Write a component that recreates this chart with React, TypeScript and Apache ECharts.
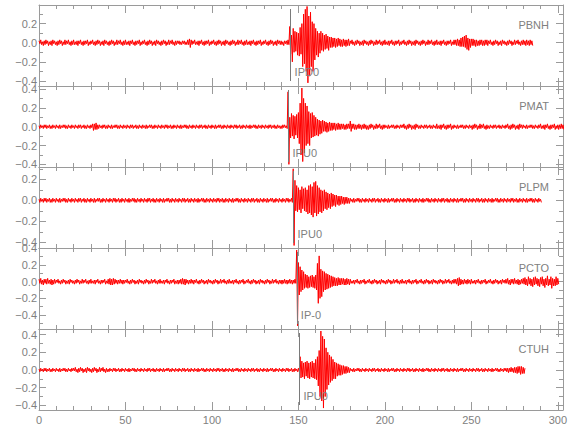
import React, { useEffect, useRef } from 'react';
import * as echarts from 'echarts';

// ---------------- data ----------------
const stations = ['PBNH', 'PMAT', 'PLPM', 'PCTO', 'CTUH'];
const pickTimes = [145.5, 144.3, 147.2, 149.1, 150.6];
const pickLabels = ['IPD0', 'IPU0', 'IPU0', 'IP-0', 'IPU0'];
const yMins = [-0.453, -0.428, -0.454, -0.569, -0.452];
const yMaxs = [0.395, 0.432, 0.317, 0.405, 0.463];
const xMax = 303;
const sampleStep = 0.5; // seconds between samples
const xMajorTicks = [0, 50, 100, 150, 200, 250, 300];
const xMinorTicks = [10, 20, 30, 40, 60, 70, 80, 90, 110, 120, 130, 140, 160, 170, 180, 190, 210, 220, 230, 240, 260, 270, 280, 290];
const yMajorTicks = [-0.4, -0.2, 0, 0.2, 0.4];
const yMinorTicks = [-0.5, -0.3, -0.1, 0.1, 0.3];

// one row = 10 s (20 samples)
const pbnh = [
  .02,-.01,.03,-.02,.01,-.03,.02,-.02,.03,-.01,.02,-.03,.01,-.02,.02,-.03,.03,-.01,.02,-.02,
  .01,-.03,.02,-.02,.03,-.01,.02,-.03,.01,-.02,.03,-.02,.02,-.01,.03,-.02,.01,-.03,.02,-.02,
  .03,-.02,.01,-.02,.02,-.03,.02,-.01,.03,-.02,.01,-.03,.02,-.02,.02,-.01,.03,-.03,.01,-.02,
  .02,-.01,.03,-.02,.01,-.03,.02,-.02,.03,-.01,.02,-.03,.01,-.02,.02,-.03,.03,-.01,.02,-.02,
  .01,-.03,.02,-.02,.03,-.01,.02,-.03,.01,-.02,.03,-.02,.02,-.01,.03,-.02,.01,-.03,.02,-.02,
  .03,-.02,.01,-.02,.02,-.03,.02,-.01,.03,-.02,.01,-.03,.02,-.02,.02,-.01,.03,-.03,.01,-.02,
  .02,-.01,.03,-.02,.01,-.03,.02,-.02,.03,-.01,.02,-.03,.01,-.02,.02,-.03,.03,-.01,.02,-.02,
  .01,-.03,.02,-.02,.03,-.01,.02,-.03,.01,-.02,.03,-.02,.02,-.01,.03,-.02,.01,-.03,.02,-.02,
  .02,-.01,.02,-.02,.01,-.02,.02,-.01,.02,-.02,.01,-.02,.03,-.02,.04,-.05,.03,-.02,.02,-.01,
  .03,-.02,.01,-.02,.02,-.03,.02,-.01,.03,-.02,.01,-.03,.02,-.02,.02,-.01,.03,-.03,.01,-.02,
  .02,-.01,.03,-.02,.01,-.03,.02,-.02,.03,-.01,.02,-.03,.01,-.02,.02,-.03,.03,-.01,.02,-.02,
  .01,-.03,.02,-.02,.03,-.01,.02,-.03,.01,-.02,.03,-.02,.02,-.01,.03,-.02,.01,-.03,.02,-.02,
  .03,-.02,.01,-.02,.02,-.03,.02,-.01,.03,-.02,.01,-.03,.02,-.02,.02,-.01,.03,-.03,.01,-.02,
  .02,-.01,.03,-.02,.01,-.03,.02,-.02,.03,-.01,.02,-.03,.01,-.02,.02,-.03,.03,-.01,.02,-.02,
  .02,-.02,.01,-.03,.02,-.01,.02,-.02,.03,-.02,.17,-.12,.08,-.2,.15,-.1,.12,-.09,.11,-.13,
  .1,-.14,.16,-.12,.2,-.25,.3,-.22,.35,-.3,.38,-.42,.28,-.35,.32,-.25,.22,-.3,.2,-.18,
  .15,-.13,.12,-.15,.1,-.11,.12,-.08,.1,-.09,.08,-.07,.09,-.06,.07,-.08,.06,-.05,.06,-.05,
  .05,-.04,.05,-.05,.04,-.04,.05,-.03,.04,-.04,.03,-.04,.04,-.03,.03,-.04,.03,-.03,.04,-.03,
  .02,-.01,.03,-.02,.01,-.03,.02,-.02,.03,-.01,.02,-.03,.01,-.02,.02,-.03,.03,-.01,.02,-.02,
  .01,-.03,.02,-.02,.03,-.01,.02,-.03,.01,-.02,.03,-.02,.02,-.01,.03,-.02,.01,-.03,.02,-.02,
  .03,-.02,.01,-.02,.02,-.03,.02,-.01,.03,-.02,.01,-.03,.02,-.02,.02,-.01,.03,-.03,.01,-.02,
  .02,-.01,.03,-.02,.01,-.03,.02,-.02,.03,-.01,.02,-.03,.01,-.02,.02,-.03,.03,-.01,.02,-.02,
  .01,-.03,.02,-.02,.03,-.01,.02,-.03,.01,-.02,.03,-.02,.02,-.01,.03,-.02,.01,-.03,.02,-.02,
  .03,-.02,.01,-.02,.02,-.03,.02,-.01,.03,-.02,.01,-.03,.02,-.02,.02,-.01,.03,-.03,.01,-.02,
  .03,-.02,.03,-.03,.04,-.03,.03,-.04,.05,-.04,.06,-.04,.07,-.05,.08,-.07,.05,-.08,.04,-.05,
  .04,-.03,.04,-.03,.03,-.04,.03,-.03,.02,-.03,.03,-.02,.03,-.03,.02,-.03,.03,-.02,.03,-.03,
  .02,-.01,.03,-.02,.01,-.03,.02,-.02,.03,-.01,.02,-.03,.01,-.02,.02,-.03,.03,-.01,.02,-.02,
  .01,-.03,.02,-.02,.03,-.01,.02,-.03,.01,-.02,.03,-.02,.02,-.01,.03,-.02,.01,-.03,.02,-.02,
  .03,-.02,.02,-.03,.03,-.02,.02,-.03,.03,-.02,.02,-.03,
];

const pmat = [
  .01,-.02,.02,-.01,.01,-.02,.02,-.01,.02,-.02,.01,-.01,.02,-.02,.01,-.02,.02,-.01,.01,-.02,
  .02,-.01,.01,-.02,.02,-.02,.01,-.01,.02,-.01,.02,-.02,.01,-.02,.02,-.01,.01,-.02,.02,-.01,
  .01,-.02,.02,-.01,.01,-.02,.02,-.01,.02,-.02,.01,-.01,.02,-.02,.01,-.02,.02,-.01,.01,-.02,
  .02,-.01,.03,-.04,.03,-.03,.04,-.03,.02,-.02,.02,-.01,.01,-.02,.02,-.01,.02,-.02,.01,-.02,
  .02,-.01,.01,-.02,.02,-.02,.01,-.01,.02,-.01,.02,-.02,.01,-.02,.02,-.01,.01,-.02,.02,-.01,
  .01,-.02,.02,-.01,.01,-.02,.02,-.01,.02,-.02,.01,-.01,.02,-.02,.01,-.02,.02,-.01,.01,-.02,
  .02,-.01,.01,-.02,.02,-.02,.01,-.01,.02,-.01,.02,-.02,.01,-.02,.02,-.01,.01,-.02,.02,-.01,
  .01,-.02,.02,-.01,.01,-.02,.02,-.01,.02,-.02,.01,-.01,.02,-.02,.01,-.02,.02,-.01,.01,-.02,
  .02,-.01,.01,-.02,.02,-.02,.01,-.01,.02,-.01,.02,-.02,.01,-.02,.02,-.01,.01,-.02,.02,-.01,
  .01,-.02,.02,-.01,.01,-.02,.02,-.01,.02,-.02,.01,-.01,.02,-.02,.01,-.02,.02,-.01,.01,-.02,
  .02,-.01,.01,-.02,.02,-.02,.01,-.01,.02,-.01,.02,-.02,.01,-.02,.02,-.01,.01,-.02,.02,-.01,
  .01,-.02,.02,-.01,.01,-.02,.02,-.01,.02,-.02,.01,-.01,.02,-.02,.01,-.02,.02,-.01,.01,-.02,
  .02,-.01,.01,-.02,.02,-.02,.01,-.01,.02,-.01,.02,-.02,.01,-.02,.02,-.01,.01,-.02,.02,-.01,
  .01,-.02,.02,-.01,.01,-.02,.02,-.01,.02,-.02,.01,-.01,.02,-.02,.01,-.02,.02,-.01,.01,-.02,
  .01,-.02,.02,-.01,.02,-.01,.01,-.02,.37,-.4,.1,-.12,.14,-.1,.12,-.13,.11,-.09,.13,-.12,
  .15,-.18,.25,-.3,.41,-.37,.3,-.28,.25,-.2,.22,-.18,.16,-.2,.14,-.12,.15,-.11,.12,-.1,
  .1,-.09,.08,-.1,.07,-.08,.06,-.07,.07,-.05,.06,-.05,.05,-.06,.04,-.05,.05,-.04,.04,-.04,
  .04,-.03,.04,-.04,.03,-.03,.04,-.03,.03,-.03,.03,-.02,.03,-.03,.02,-.03,.03,-.02,.03,-.02,
  .06,-.05,.03,-.02,.03,-.03,.02,-.03,.02,-.02,.03,-.02,.02,-.03,.02,-.02,.03,-.02,.02,-.03,
  .01,-.03,.02,-.02,.03,-.01,.02,-.03,.01,-.02,.03,-.02,.02,-.01,.03,-.02,.01,-.03,.02,-.02,
  .02,-.01,.01,-.02,.02,-.02,.01,-.01,.02,-.01,.02,-.02,.01,-.02,.02,-.01,.01,-.02,.02,-.01,
  .02,-.01,.03,-.02,.01,-.03,.02,-.02,.03,-.01,.02,-.03,.01,-.02,.02,-.03,.03,-.01,.02,-.02,
  .01,-.02,.02,-.01,.01,-.02,.02,-.01,.02,-.02,.01,-.01,.02,-.02,.01,-.02,.02,-.01,.01,-.02,
  .03,-.02,.01,-.02,.02,-.03,.02,-.01,.03,-.02,.01,-.03,.02,-.02,.02,-.01,.03,-.03,.01,-.02,
  .02,-.01,.01,-.02,.02,-.02,.01,-.01,.02,-.01,.02,-.02,.01,-.02,.02,-.01,.01,-.02,.02,-.01,
  .01,-.03,.02,-.02,.03,-.01,.02,-.03,.01,-.02,.03,-.02,.02,-.01,.03,-.02,.01,-.03,.02,-.02,
  .01,-.02,.02,-.01,.01,-.02,.02,-.01,.02,-.02,.01,-.01,.02,-.02,.01,-.02,.02,-.01,.01,-.02,
  .02,-.01,.03,-.02,.01,-.03,.02,-.02,.03,-.01,.02,-.03,.01,-.02,.02,-.03,.03,-.01,.02,-.02,
  .02,-.01,.01,-.02,.02,-.02,.01,-.01,.02,-.01,.02,-.02,.01,-.02,.02,-.01,.01,-.02,.02,-.01,
  .03,-.02,.01,-.02,.02,-.03,.02,-.01,.03,-.02,.01,-.03,.02,-.02,.02,-.01,.03,-.03,.01,-.02,
  .02,-.03,.02,-.02,.03,-.02,.02,-.03,
];

const plpm = [
  .01,-.02,.02,-.01,.01,-.02,.02,-.01,.02,-.02,.01,-.01,.02,-.02,.01,-.02,.02,-.01,.01,-.02,
  .02,-.01,.01,-.02,.02,-.02,.01,-.01,.02,-.01,.02,-.02,.01,-.02,.02,-.01,.01,-.02,.02,-.01,
  .01,-.02,.02,-.01,.01,-.02,.02,-.01,.02,-.02,.01,-.01,.02,-.02,.01,-.02,.02,-.01,.01,-.02,
  .02,-.01,.01,-.02,.02,-.02,.01,-.01,.02,-.01,.02,-.02,.01,-.02,.02,-.01,.01,-.02,.02,-.01,
  .01,-.02,.02,-.01,.01,-.02,.02,-.01,.02,-.02,.01,-.01,.02,-.02,.01,-.02,.02,-.01,.01,-.02,
  .02,-.01,.01,-.02,.02,-.02,.01,-.01,.02,-.01,.02,-.02,.01,-.02,.02,-.01,.01,-.02,.02,-.01,
  .01,-.02,.02,-.01,.01,-.02,.02,-.01,.02,-.02,.01,-.01,.02,-.02,.01,-.02,.02,-.01,.01,-.02,
  .02,-.01,.01,-.02,.02,-.02,.01,-.01,.02,-.01,.02,-.02,.01,-.02,.02,-.01,.01,-.02,.02,-.01,
  .01,-.02,.02,-.01,.01,-.02,.02,-.01,.02,-.02,.01,-.01,.02,-.02,.01,-.02,.02,-.01,.01,-.02,
  .02,-.01,.01,-.02,.02,-.02,.01,-.01,.02,-.01,.02,-.02,.01,-.02,.02,-.01,.01,-.02,.02,-.01,
  .01,-.02,.02,-.01,.01,-.02,.02,-.01,.02,-.02,.01,-.01,.02,-.02,.01,-.02,.02,-.01,.01,-.02,
  .02,-.01,.01,-.02,.02,-.02,.01,-.01,.02,-.01,.02,-.02,.01,-.02,.02,-.01,.01,-.02,.02,-.01,
  .01,-.02,.02,-.01,.01,-.02,.02,-.01,.02,-.02,.01,-.01,.02,-.02,.01,-.02,.02,-.01,.01,-.02,
  .02,-.01,.01,-.02,.02,-.02,.01,-.01,.02,-.01,.02,-.02,.01,-.02,.02,-.01,.01,-.02,.02,-.01,
  .01,-.02,.02,-.01,.01,-.02,.02,-.01,.02,-.02,.01,-.01,.02,-.02,.3,-.43,.19,-.1,.14,-.11,
  .12,-.09,.1,-.12,.13,-.08,.11,-.1,.12,-.11,.1,-.13,.14,-.12,.15,-.14,.13,-.16,.17,-.12,
  .18,-.15,.14,-.13,.12,-.11,.1,-.12,.09,-.1,.1,-.08,.08,-.09,.07,-.07,.06,-.08,.07,-.06,
  .06,-.05,.05,-.06,.05,-.04,.04,-.05,.04,-.04,.04,-.03,.03,-.04,.03,-.03,.03,-.03,.02,-.03,
  .02,-.01,.01,-.02,.02,-.02,.01,-.01,.02,-.01,.02,-.02,.01,-.02,.02,-.01,.01,-.02,.02,-.01,
  .01,-.02,.02,-.01,.01,-.02,.02,-.01,.02,-.02,.01,-.01,.02,-.02,.01,-.02,.02,-.01,.01,-.02,
  .02,-.01,.01,-.02,.02,-.02,.01,-.01,.02,-.01,.02,-.02,.01,-.02,.02,-.01,.01,-.02,.02,-.01,
  .01,-.02,.02,-.01,.01,-.02,.02,-.01,.02,-.02,.01,-.01,.02,-.02,.01,-.02,.02,-.01,.01,-.02,
  .02,-.01,.01,-.02,.02,-.02,.01,-.01,.02,-.01,.02,-.02,.01,-.02,.02,-.01,.01,-.02,.02,-.01,
  .01,-.02,.02,-.01,.01,-.02,.02,-.01,.02,-.02,.01,-.01,.02,-.02,.01,-.02,.02,-.01,.01,-.02,
  .02,-.01,.01,-.02,.02,-.02,.01,-.01,.02,-.01,.02,-.02,.01,-.02,.02,-.01,.01,-.02,.02,-.01,
  .01,-.02,.02,-.01,.01,-.02,.02,-.01,.02,-.02,.01,-.01,.02,-.02,.01,-.02,.02,-.01,.01,-.02,
  .02,-.01,.01,-.02,.02,-.02,.01,-.01,.02,-.01,.02,-.02,.01,-.02,.02,-.01,.01,-.02,.02,-.01,
  .01,-.02,.02,-.01,.01,-.02,.02,-.01,.02,-.02,.01,-.01,.02,-.02,.01,-.02,.02,-.01,.01,-.02,
  .02,-.01,.01,-.02,.02,-.02,.01,-.01,.02,-.01,.02,-.02,.01,-.02,.02,-.01,.01,-.02,.02,-.01,
  .01,-.02,
];

const pcto = [
  .03,-.02,.04,-.03,.02,-.04,.03,-.02,.03,-.03,.04,-.02,.02,-.03,.03,-.04,.02,-.03,.03,-.02,
  .02,-.01,.03,-.02,.01,-.03,.02,-.02,.03,-.01,.02,-.03,.01,-.02,.02,-.03,.03,-.01,.02,-.02,
  .01,-.03,.02,-.02,.03,-.01,.02,-.03,.01,-.02,.03,-.02,.02,-.01,.03,-.02,.01,-.03,.02,-.02,
  .03,-.02,.01,-.02,.02,-.03,.02,-.01,.03,-.02,.01,-.03,.02,-.02,.02,-.01,.03,-.03,.01,-.02,
  .03,-.03,.04,-.04,.03,-.04,.04,-.03,.03,-.02,.02,-.03,.02,-.02,.03,-.02,.02,-.03,.02,-.02,
  .02,-.01,.03,-.02,.01,-.03,.02,-.02,.03,-.01,.02,-.03,.01,-.02,.02,-.03,.03,-.01,.02,-.02,
  .01,-.03,.02,-.02,.03,-.01,.02,-.03,.01,-.02,.03,-.02,.02,-.01,.03,-.02,.01,-.03,.02,-.02,
  .03,-.02,.01,-.02,.02,-.03,.02,-.01,.03,-.02,.01,-.03,.02,-.02,.02,-.01,.03,-.03,.01,-.02,
  .02,-.03,.02,-.02,.03,-.03,.04,-.03,.03,-.04,.03,-.02,.02,-.03,.02,-.02,.03,-.02,.02,-.03,
  .02,-.01,.03,-.02,.01,-.03,.02,-.02,.03,-.01,.02,-.03,.01,-.02,.02,-.03,.03,-.01,.02,-.02,
  .01,-.03,.02,-.02,.03,-.01,.02,-.03,.01,-.02,.03,-.02,.02,-.01,.03,-.02,.01,-.03,.02,-.02,
  .03,-.02,.01,-.02,.02,-.03,.02,-.01,.03,-.02,.01,-.03,.02,-.02,.02,-.01,.03,-.03,.01,-.02,
  .02,-.01,.03,-.02,.01,-.03,.02,-.02,.03,-.01,.02,-.03,.01,-.02,.02,-.03,.03,-.01,.02,-.02,
  .01,-.03,.02,-.02,.03,-.01,.02,-.03,.01,-.02,.03,-.02,.02,-.01,.03,-.02,.01,-.03,.02,-.02,
  .02,-.03,.02,-.02,.03,-.02,.02,-.03,.02,-.02,.03,-.02,.02,-.03,.02,-.02,.03,-.02,.38,-.53,
  .23,-.16,.18,-.12,.14,-.1,.12,-.08,.09,-.07,.08,-.08,.06,-.07,.07,-.06,.08,-.07,.06,-.08,
  .08,-.1,.22,-.26,.31,-.2,.15,-.18,.13,-.12,.12,-.1,.1,-.09,.09,-.08,.08,-.07,.07,-.06,
  .06,-.05,.05,-.05,.04,-.05,.05,-.04,.04,-.04,.04,-.03,.04,-.04,.03,-.04,.04,-.03,.03,-.04,
  .03,-.02,.01,-.02,.02,-.03,.02,-.01,.03,-.02,.01,-.03,.02,-.02,.02,-.01,.03,-.03,.01,-.02,
  .02,-.01,.03,-.02,.01,-.03,.02,-.02,.03,-.01,.02,-.03,.01,-.02,.02,-.03,.03,-.01,.02,-.02,
  .01,-.03,.02,-.02,.03,-.01,.02,-.03,.01,-.02,.03,-.02,.02,-.01,.03,-.02,.01,-.03,.02,-.02,
  .03,-.02,.01,-.02,.02,-.03,.02,-.01,.03,-.02,.01,-.03,.02,-.02,.02,-.01,.03,-.03,.01,-.02,
  .02,-.01,.03,-.02,.01,-.03,.02,-.02,.03,-.01,.02,-.03,.01,-.02,.02,-.03,.03,-.01,.02,-.02,
  .01,-.03,.02,-.02,.03,-.01,.02,-.03,.01,-.02,.03,-.02,.02,-.01,.03,-.02,.01,-.03,.02,-.02,
  .03,-.02,.03,-.03,.04,-.05,.05,-.04,.03,-.03,.02,-.03,.03,-.02,.02,-.03,.03,-.02,.02,-.03,
  .03,-.02,.01,-.02,.02,-.03,.02,-.01,.03,-.02,.01,-.03,.02,-.02,.02,-.01,.03,-.03,.01,-.02,
  .02,-.01,.03,-.02,.01,-.03,.02,-.02,.03,-.01,.02,-.03,.01,-.02,.02,-.03,.03,-.01,.02,-.02,
  .03,-.02,.04,-.03,.02,-.04,.03,-.02,.03,-.03,.04,-.02,.02,-.03,.03,-.04,.02,-.03,.03,-.02,
  .04,-.03,.05,-.04,.03,-.05,.06,-.03,.04,-.05,.03,-.06,.05,-.04,.06,-.03,.04,-.05,.03,-.06,
  .05,-.03,.06,-.05,.03,-.07,.04,-.04,.07,-.05,.03,-.04,.06,-.08,.04,-.05,.03,-.05,.06,-.04,
  .04,-.03,
];

const ctuh = [
  .01,-.02,.02,-.01,.01,-.02,.02,-.01,.02,-.02,.01,-.01,.02,-.02,.01,-.02,.02,-.01,.01,-.02,
  .02,-.01,.01,-.02,.02,-.02,.01,-.01,.02,-.01,.02,-.02,.01,-.02,.02,-.01,.01,-.02,.02,-.01,
  .02,-.01,.03,-.02,.01,-.03,.02,-.02,.03,-.01,.02,-.03,.01,-.02,.02,-.03,.03,-.01,.02,-.02,
  .01,-.03,.02,-.02,.03,-.01,.02,-.03,.01,-.02,.03,-.02,.02,-.01,.03,-.02,.01,-.03,.02,-.02,
  .01,-.02,.02,-.01,.01,-.02,.02,-.01,.02,-.02,.01,-.01,.02,-.02,.01,-.02,.02,-.01,.01,-.02,
  .02,-.01,.01,-.02,.02,-.02,.01,-.01,.02,-.01,.02,-.02,.01,-.02,.02,-.01,.01,-.02,.02,-.01,
  .01,-.02,.02,-.01,.01,-.02,.02,-.01,.02,-.02,.01,-.01,.02,-.02,.01,-.02,.02,-.01,.01,-.02,
  .02,-.01,.01,-.02,.02,-.02,.01,-.01,.02,-.01,.02,-.02,.01,-.02,.02,-.01,.01,-.02,.02,-.01,
  .01,-.02,.02,-.01,.01,-.02,.02,-.01,.02,-.02,.01,-.01,.02,-.02,.01,-.02,.02,-.01,.01,-.02,
  .02,-.01,.01,-.02,.02,-.02,.01,-.01,.02,-.01,.02,-.02,.01,-.02,.02,-.01,.01,-.02,.02,-.01,
  .01,-.02,.02,-.01,.01,-.02,.02,-.01,.02,-.02,.01,-.01,.02,-.02,.01,-.02,.02,-.01,.01,-.02,
  .02,-.01,.01,-.02,.02,-.02,.01,-.01,.02,-.01,.02,-.02,.01,-.02,.02,-.01,.01,-.02,.02,-.01,
  .01,-.02,.02,-.01,.01,-.02,.02,-.01,.02,-.02,.01,-.01,.02,-.02,.01,-.02,.02,-.01,.01,-.02,
  .02,-.01,.01,-.02,.02,-.02,.01,-.01,.02,-.01,.02,-.02,.01,-.02,.02,-.01,.01,-.02,.02,-.01,
  .01,-.02,.02,-.01,.01,-.02,.02,-.01,.02,-.02,.01,-.01,.02,-.02,.01,-.02,.02,-.01,.01,-.02,
  .02,-.02,.15,-.09,.1,-.08,.08,-.1,.09,-.07,.1,-.09,.08,-.1,.09,-.08,.1,-.09,.08,-.1,
  .12,-.11,.15,-.18,.22,-.3,.44,-.35,.38,-.43,.35,-.3,.25,-.22,.2,-.17,.17,-.14,.15,-.12,
  .12,-.1,.09,-.1,.08,-.07,.07,-.06,.06,-.06,.05,-.05,.05,-.04,.04,-.04,.04,-.03,.03,-.03,
  .02,-.01,.01,-.02,.02,-.02,.01,-.01,.02,-.01,.02,-.02,.01,-.02,.02,-.01,.01,-.02,.02,-.01,
  .01,-.02,.02,-.01,.01,-.02,.02,-.01,.02,-.02,.01,-.01,.02,-.02,.01,-.02,.02,-.01,.01,-.02,
  .02,-.01,.01,-.02,.02,-.02,.01,-.01,.02,-.01,.02,-.02,.01,-.02,.02,-.01,.01,-.02,.02,-.01,
  .01,-.02,.02,-.01,.01,-.02,.02,-.01,.02,-.02,.01,-.01,.02,-.02,.01,-.02,.02,-.01,.01,-.02,
  .02,-.01,.01,-.02,.02,-.02,.01,-.01,.02,-.01,.02,-.02,.01,-.02,.02,-.01,.01,-.02,.02,-.01,
  .01,-.02,.02,-.01,.01,-.02,.02,-.01,.02,-.02,.01,-.01,.02,-.02,.01,-.02,.02,-.01,.01,-.02,
  .02,-.01,.01,-.02,.02,-.02,.01,-.01,.02,-.01,.02,-.02,.01,-.02,.02,-.01,.01,-.02,.02,-.01,
  .01,-.02,.02,-.01,.01,-.02,.02,-.01,.02,-.02,.01,-.01,.02,-.02,.01,-.02,.02,-.01,.01,-.02,
  .02,-.01,.01,-.02,.02,-.02,.01,-.01,.02,-.01,.02,-.02,.01,-.02,.02,-.01,.01,-.02,.02,-.01,
  .02,-.02,.02,-.03,.02,-.02,.03,-.02,.02,-.03,.03,-.03,.03,-.04,.04,-.03,.04,-.05,.04,-.04,
  .03,-.04,.02,
];

const traces = [pbnh, pmat, plpm, pcto, ctuh];

// ---------------- layout / style ----------------
const W = 580;
const H = 440;
const GRID_LEFT = 39;
const GRID_RIGHT = 17;
const GRID_TOP = 5;
const PANEL_H = 81;
const AXIS_COLOR = '#9a9a9a';
const TEXT_COLOR = '#808080';
const FONT = "'Liberation Sans', Arial, sans-serif";
const NARROW_FONT = "'Liberation Sans Narrow', 'Liberation Sans', Arial, sans-serif";

const fmtY = (v: number) => (v < -1e-9 ? '\u2212' : '') + Math.abs(v).toFixed(1);

export default function App() {
  const ref = useRef<HTMLDivElement>(null);

  useEffect(() => {
    if (!ref.current) return;
    const chart = echarts.init(ref.current, null, { renderer: 'svg', width: W, height: H });
    const n = stations.length;

    const grids: any[] = [];
    const xAxes: any[] = [];
    const yAxes: any[] = [];
    const series: any[] = [];
    const graphics: any[] = [];

    for (let k = 0; k < n; k++) {
      const top = GRID_TOP + PANEL_H * k;
      grids.push({ left: GRID_LEFT, right: GRID_RIGHT, top, height: PANEL_H, containLabel: false, outerBoundsMode: 'none' });

      const lineStyle = { color: AXIS_COLOR, width: 1 };
      const xBase = (position: string, ticks: number[], len: number, showLine: boolean, showLabel: boolean) => ({
        type: 'value',
        gridIndex: k,
        min: 0,
        max: xMax,
        position,
        axisLine: { show: showLine, onZero: false, lineStyle },
        axisTick: { show: true, inside: true, length: len, customValues: ticks, lineStyle },
        axisLabel: {
          show: showLabel,
          customValues: xMajorTicks,
          color: TEXT_COLOR,
          fontSize: 11,
          fontFamily: FONT,
          margin: 4,
        },
        splitLine: { show: false },
        minorTick: { show: false },
      });
      xAxes.push(xBase('bottom', xMajorTicks, 8, true, k === n - 1));
      xAxes.push(xBase('bottom', xMinorTicks, 4, false, false));
      xAxes.push(xBase('top', xMajorTicks, 8, true, false));
      xAxes.push(xBase('top', xMinorTicks, 4, false, false));

      const lo = yMins[k];
      const hi = yMaxs[k];
      const inRange = (arr: number[]) => arr.filter((v) => v >= lo - 1e-9 && v <= hi + 1e-9);
      const major = inRange(yMajorTicks);
      const minor = inRange(yMinorTicks);
      const yBase = (position: string, ticks: number[], len: number, showLine: boolean, showLabel: boolean) => ({
        type: 'value',
        gridIndex: k,
        min: lo,
        max: hi,
        position,
        axisLine: { show: showLine, onZero: false, lineStyle },
        axisTick: { show: true, inside: true, length: len, customValues: ticks, lineStyle },
        axisLabel: {
          show: showLabel,
          customValues: major,
          formatter: fmtY,
          color: TEXT_COLOR,
          fontSize: 11,
          fontFamily: FONT,
          margin: 2,
        },
        splitLine: { show: false },
        minorTick: { show: false },
      });
      yAxes.push(yBase('left', major, 7, true, true));
      yAxes.push(yBase('left', minor, 4, false, false));
      yAxes.push(yBase('right', major, 7, true, false));
      yAxes.push(yBase('right', minor, 4, false, false));

      const range = hi - lo;
      const t = pickTimes[k];
      series.push({
        type: 'line',
        xAxisIndex: 4 * k,
        yAxisIndex: 4 * k,
        data: traces[k].map((v, i) => [i * sampleStep, v]),
        symbol: 'none',
        showSymbol: false,
        clip: true,
        silent: true,
        lineStyle: { color: '#ff0000', width: 1 },
        emphasis: { disabled: true },
        markLine: {
          silent: true,
          symbol: ['none', 'none'],
          label: { show: false },
          lineStyle: { color: '#7a7a7a', width: 1, type: 'solid' },
          emphasis: { disabled: true },
          data: [[
            { coord: [t, hi - range * (4 / PANEL_H)] },
            { coord: [t, lo + range * (5 / PANEL_H)] },
          ]],
        },
        markPoint: {
          silent: true,
          symbol: 'circle',
          symbolSize: 0,
          itemStyle: { color: 'transparent' },
          label: {
            show: true,
            position: 'right',
            distance: 4,
            formatter: pickLabels[k],
            color: TEXT_COLOR,
            fontSize: 11,
            fontFamily: NARROW_FONT,
          },
          data: [{ coord: [t, lo + range * (14.5 / PANEL_H)] }],
        },
      });

      graphics.push({
        type: 'text',
        x: W - GRID_RIGHT - 14,
        y: top + 20,
        silent: true,
        style: {
          text: stations[k],
          fill: TEXT_COLOR,
          font: `11px ${NARROW_FONT}`,
          align: 'right',
          verticalAlign: 'middle',
        },
      });
    }

    chart.setOption({
      animation: false,
      backgroundColor: '#ffffff',
      textStyle: { color: TEXT_COLOR, fontFamily: FONT },
      grid: grids,
      xAxis: xAxes,
      yAxis: yAxes,
      series,
      graphic: graphics,
    });

    return () => chart.dispose();
  }, []);

  return (
    <div
      ref={ref}
      style={{ position: 'fixed', left: 0, top: 0, width: W, height: H, background: '#fff' }}
    />
  );
}
